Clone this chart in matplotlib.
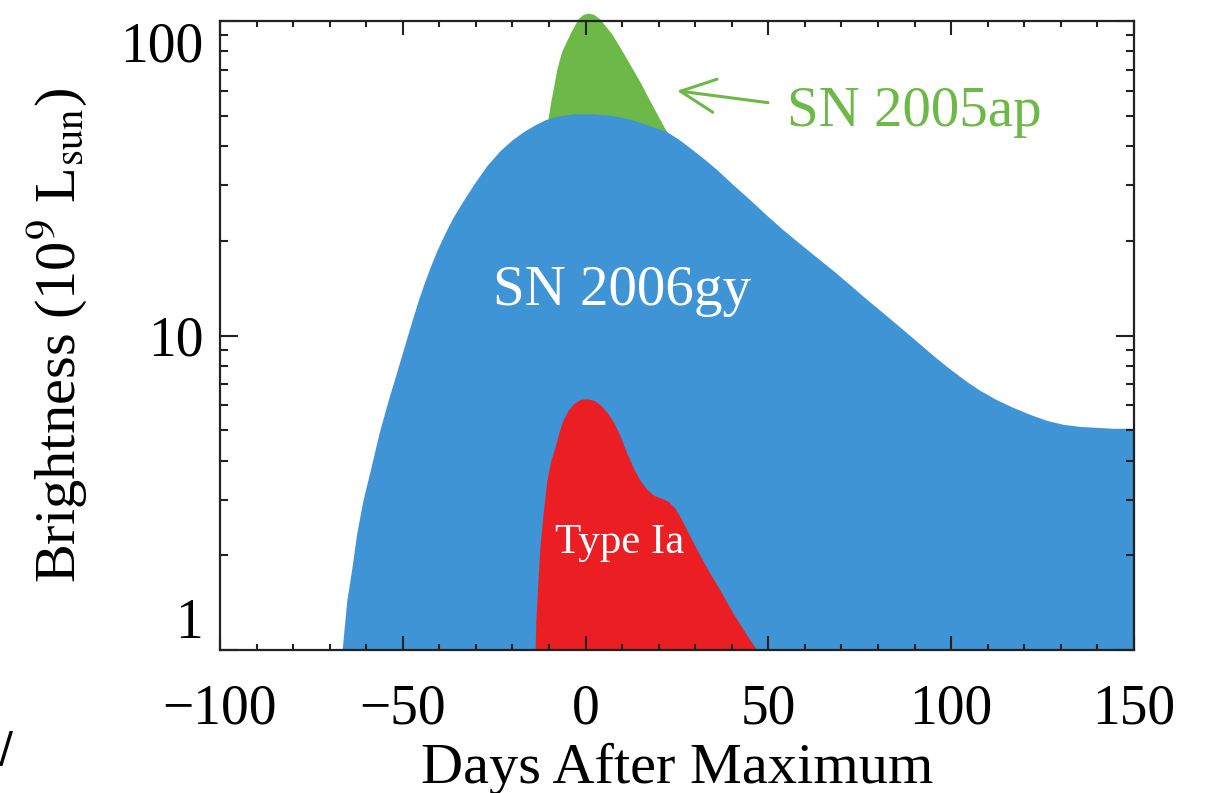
import numpy as np
import matplotlib
matplotlib.use("Agg")
import matplotlib.pyplot as plt
from matplotlib.ticker import FixedLocator, NullFormatter, LogLocator

plt.rcParams['font.family'] = ['Liberation Serif', 'DejaVu Serif']
plt.rcParams['mathtext.fontset'] = 'stix'

# light curves: days after maximum vs brightness (1e9 L_sun)
gy_days = [-66.6, -65.3, -63.9, -62.6, -60.9, -58.7, -56.5, -54.0, -51.3, -48.6,
           -45.8, -44.2, -42.6, -40.7, -38.5, -36.3, -33.5, -30.3, -27.0, -23.4,
           -20.1, -17.1, -13.8, -11.1, -8.4, -5.6, -2.9, 1.75, 5.6, 9.4,
           12.7, 16.2, 19.3, 22.3, 25.3, 28.6, 32.1, 35.9, 40.3, 45.0,
           49.4, 54.0, 58.6, 63.3, 67.7, 72.3, 76.7, 81.4, 85.5, 89.6,
           95.1, 98.8, 104.1, 107.9, 112.3, 116.9, 121.6, 126.2, 130.6, 135.2,
           144.3, 150.0]
gy_lum = [1.0, 1.44, 1.83, 2.35, 2.99, 3.81, 4.89, 6.22, 7.91, 10.1,
          12.9, 14.6, 16.4, 18.6, 21.1, 23.7, 26.8, 30.6, 34.7, 38.7,
          41.9, 44.4, 46.8, 48.5, 49.6, 50.3, 50.7, 50.7, 50.3, 49.6,
          48.5, 47.1, 45.7, 44.4, 42.2, 39.5, 36.7, 33.7, 30.2, 27.0,
          24.2, 21.7, 19.6, 17.7, 16.1, 14.5, 13.1, 11.8, 10.76, 9.8,
          8.64, 7.97, 7.16, 6.69, 6.26, 5.91, 5.61, 5.37, 5.22, 5.14,
          5.07, 5.07]

ap_days = [-15.2, -12.5, -10.3, -9.5, -8.6, -7.8, -6.5, -4.3, -2.1, -0.7,
           0.7, 2.3, 3.9, 7.2, 10.0, 12.7, 15.2, 17.6, 20.1, 22.5,
           25.8, 31.3, 39.5]
ap_lum = [23.2, 35.9, 48.8, 55.7, 63.1, 70.9, 80.3, 90.9, 101.5, 104.9,
          106.0, 104.9, 101.5, 90.9, 80.3, 70.9, 63.1, 55.7, 49.2, 43.8,
          35.9, 26.8, 17.3]

ia_days = [-13.8, -13.6, -13.0, -12.5, -11.6, -10.6, -9.5, -8.4, -7.3, -6.2,
           -4.8, -3.2, -1.5, 0.4, 2.3, 4.2, 6.1, 7.8, 9.4, 11.1,
           13.0, 14.9, 16.8, 18.7, 20.7, 22.6, 24.5, 26.1, 28.0, 30.5,
           33.2, 36.8, 40.3, 43.6, 46.8]
ia_lum = [1.0, 1.245, 1.67, 2.12, 2.72, 3.46, 4.01, 4.4, 4.92, 5.37,
          5.78, 6.08, 6.26, 6.3, 6.22, 6.0, 5.65, 5.26, 4.81, 4.28,
          3.81, 3.46, 3.24, 3.10, 3.04, 2.97, 2.82, 2.62, 2.37, 2.08,
          1.82, 1.55, 1.31, 1.14, 1.0]

x_ticks = [-100, -50, 0, 50, 100, 150]
y_ticks = [1, 10, 100]

c_blue = '#3E94D4'
c_green = '#6DB947'
c_red = '#EB1E24'

fig = plt.figure(figsize=(12.08, 7.93), dpi=100)
ax = fig.add_axes([0.1821, 0.1803, 0.7566, 0.7932])
ax.set_yscale('log')

# green peak pokes out above the frame, so no clipping for it
ax.fill_between(ap_days, 1, ap_lum, color=c_green, lw=0, clip_on=False)
ax.fill_between(gy_days, 1, gy_lum, color=c_blue, lw=0)
ax.fill_between(ia_days, 1, ia_lum, color=c_red, lw=0)

ax.set_xlim(-100, 150)
ax.set_ylim(1, 100)

ax.xaxis.set_major_locator(FixedLocator(x_ticks))
ax.xaxis.set_minor_locator(FixedLocator(np.arange(-100, 151, 10)))
ax.yaxis.set_major_locator(FixedLocator(y_ticks))
ax.yaxis.set_minor_locator(LogLocator(base=10, subs=np.arange(2, 10)))
ax.yaxis.set_minor_formatter(NullFormatter())
ax.set_yticklabels([str(v) for v in y_ticks])

ax.tick_params(axis='both', which='both', direction='in', top=True, right=True,
               width=1.5, color='#222222', labelsize=40)
ax.tick_params(axis='x', which='major', length=10, pad=24)
ax.tick_params(axis='x', which='minor', length=4.5)
ax.tick_params(axis='y', which='major', length=13, pad=12)
ax.tick_params(axis='y', which='minor', length=6)
for s in ax.spines.values():
    s.set_linewidth(1.6)
    s.set_color('#222222')

# keep the end labels inside the y range
ylabs = ax.get_yticklabels()
ylabs[0].set_va('bottom')
ylabs[-1].set_va('top')

ax.set_xlabel('Days After Maximum', fontsize=42, labelpad=5)
ax.set_ylabel(r'Brightness (10$^{9}$ L$_{\rm sun}$)', fontsize=42, labelpad=22)

ax.text(10.0, 12.5, 'SN 2006gy', color='white', fontsize=41, ha='center', va='baseline')
ax.text(9.4, 2.19, 'Type Ia', color='white', fontsize=31, ha='center', va='center')
ax.text(55.1, 46.4, 'SN 2005ap', color=c_green, fontsize=41, ha='left', va='baseline')
ax.annotate('', xy=(25.0, 60.0), xytext=(49.9, 55.0),
            arrowprops=dict(arrowstyle='->, head_length=1.25, head_width=0.6',
                            color=c_green, lw=2.2, mutation_scale=20,
                            shrinkA=0, shrinkB=0))

fig.text(0.005, 0.054, '/', fontsize=30, family='DejaVu Sans', ha='center', va='center')

fig.savefig('out.png', dpi=100)
